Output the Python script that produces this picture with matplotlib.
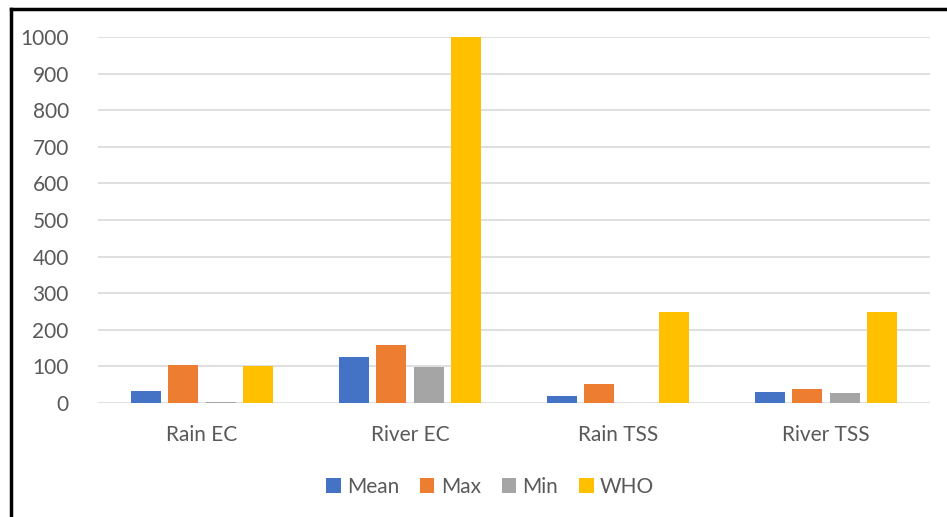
import matplotlib
matplotlib.use("Agg")
import matplotlib.pyplot as plt
import numpy as np
from matplotlib.lines import Line2D

categories = ["Rain EC", "River EC", "Rain TSS", "River TSS"]
series_names = ["Mean", "Max", "Min", "WHO"]
mean_vals = [33, 125, 18, 31]
max_vals = [104, 158, 52, 37]
min_vals = [4, 97, 0, 27]
who_vals = [100, 1000, 250, 250]
colors = ["#4472c4", "#ed7d31", "#a5a5a5", "#ffc000"]
yticks = [0, 100, 200, 300, 400, 500, 600, 700, 800, 900, 1000]

plt.rcParams["font.family"] = ["Lato", "DejaVu Sans"]
text_color = "#595959"

fig = plt.figure(figsize=(9.47, 5.17), dpi=100)
ax = fig.add_axes([98 / 947, 114 / 517, 832 / 947, 366 / 517])

x = np.arange(len(categories))
width = 0.144
step = 0.181
for i, (name, vals) in enumerate(zip(series_names, [mean_vals, max_vals, min_vals, who_vals])):
    ax.bar(x + (i - 1.5) * step, vals, width, color=colors[i], label=name, zorder=2)

ax.set_xlim(-0.5, len(categories) - 0.5)
ax.set_ylim(0, 1000)
ax.set_yticks(yticks)
ax.set_xticks(x, labels=categories)
ax.yaxis.grid(True, color="#d9d9d9", lw=1.2, zorder=0)
ax.set_axisbelow(True)
for s in ax.spines.values():
    s.set_visible(False)
ax.tick_params(axis="both", length=0, labelsize=15, labelcolor=text_color)
ax.tick_params(axis="y", pad=21)
ax.tick_params(axis="x", pad=16)

leg = fig.legend(loc="center", bbox_to_anchor=(490 / 947, 1 - 487 / 517), ncol=4,
                 frameon=False, fontsize=15, handlelength=0.7, handleheight=0.7,
                 handletextpad=0.3, columnspacing=1.0)
for t in leg.get_texts():
    t.set_color(text_color)

# frame edges along top and left
fig.add_artist(Line2D([10.5 / 947, 1.0], [1 - 9 / 517, 1 - 9 / 517], color="black", lw=2.5))
fig.add_artist(Line2D([10.5 / 947, 10.5 / 947], [0, 1 - 9 / 517], color="black", lw=2.5))

fig.savefig("out.png", dpi=100)
